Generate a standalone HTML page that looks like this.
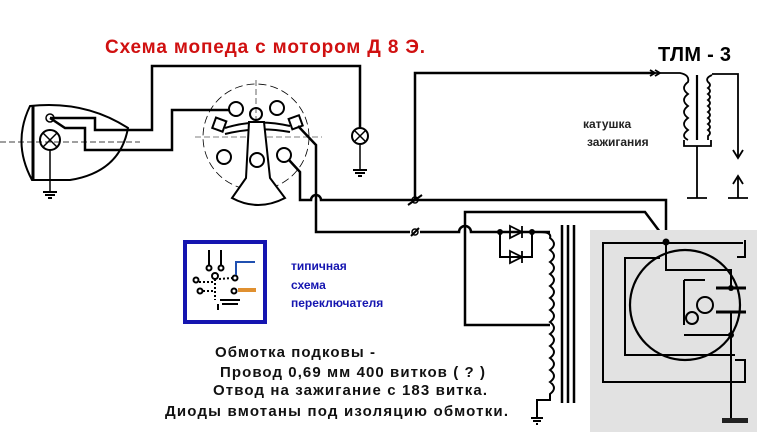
<!DOCTYPE html>
<html><head><meta charset="utf-8"><style>body{margin:0;background:#fff}svg{display:block}</style></head><body>
<svg width="775" height="446" viewBox="0 0 775 446" xmlns="http://www.w3.org/2000/svg" font-family="Liberation Sans, sans-serif">
<rect width="775" height="446" fill="#fff"/>
<text x="105" y="53" font-size="19" font-weight="bold" fill="#d01010" textLength="320" lengthAdjust="spacing">Схема мопеда с мотором Д 8 Э.</text>
<text x="658" y="61" font-size="20" font-weight="bold" fill="#000" textLength="73" lengthAdjust="spacing">ТЛМ - 3</text>
<g fill="none" stroke="#000" stroke-width="2.5">
<path d="M30,106 Q85,100 128,128 Q120,172 70,180 L32,180 Q12,143 30,106 Z" stroke-width="2"/>
<line x1="33" y1="106" x2="33" y2="180" stroke-width="3"/>
<line x1="0" y1="142" x2="140" y2="142" stroke-width="0.7" stroke-dasharray="6,3"/>
<circle cx="50" cy="140" r="10" stroke-width="2"/>
<path d="M43,133 L57,147 M57,133 L43,147" stroke-width="1.5"/>
<circle cx="50" cy="118" r="4" stroke-width="1.5"/>
<line x1="50" y1="150" x2="50" y2="192" stroke-width="1.5"/>
<path d="M43,192 H57 M45,195 H55 M48,198 H52" stroke-width="2"/>
<path d="M50,118 H95 V130 H152 V66 H360 V128"/>
<path d="M50,118 L65,128 H85 V150 H172 V110 H230"/>
<circle cx="360" cy="136" r="8" stroke-width="2"/>
<path d="M354,130 L366,142 M366,130 L354,142" stroke-width="1.5"/>
<line x1="360" y1="144" x2="360" y2="170" stroke-width="1.5"/>
<path d="M353,170 H367 M355,173 H365 M358,176 H362" stroke-width="2"/>
<circle cx="256" cy="137" r="53" stroke-width="0.8" stroke-dasharray="8,4"/>
<line x1="256" y1="80" x2="256" y2="205" stroke-width="0.6" stroke-dasharray="6,3"/>
<line x1="195" y1="137" x2="322" y2="137" stroke-width="0.6" stroke-dasharray="6,3"/>
<circle cx="236" cy="109" r="7" stroke-width="2"/>
<circle cx="277" cy="108" r="7" stroke-width="2"/>
<circle cx="256" cy="114" r="6" stroke-width="2"/>
<circle cx="224" cy="157" r="7" stroke-width="2"/>
<circle cx="257" cy="163" r="7" stroke-width="2"/>
<circle cx="284" cy="155" r="7" stroke-width="2"/>
<rect x="214" y="119" width="11" height="11" transform="rotate(20 219 124)" stroke-width="2"/>
<rect x="290" y="117" width="11" height="11" transform="rotate(-20 295 122)" stroke-width="2"/>
<path d="M225,128 Q256,118 290,126 M225,134 Q256,126 290,132" stroke-width="2"/>
<path d="M249,122 H264 L270,178 L285,198 Q258,212 232,198 L246,178 Z" stroke-width="2" fill="#fff"/>
<circle cx="257" cy="160" r="7" stroke-width="2" fill="#fff"/>
<path d="M298,126 L316,145 V232 H410"/>
<path d="M289,160 L300,172 V200 H311 A5,5 0 0 1 321,200 H666 V242"/>
<path d="M415,200 V73 H655"/>
<path d="M420,232 H459 A6,6 0 0 1 471,232 H550"/>
<path d="M465,232 V212 H645 L666,240"/>
<path d="M465,232 V325 H550"/>
<path d="M408,205 L422,195 M411,236 L419,228" stroke-width="2"/>
<circle cx="415" cy="200" r="3" stroke-width="1.5"/>
<circle cx="415" cy="232" r="3" stroke-width="1.5"/>
<path d="M500,232 V257 H532 V232" stroke-width="2"/>
<path d="M510,226 L522,232 L510,238 Z M522,226 V238 M510,251 L522,257 L510,263 Z M522,251 V263" stroke-width="1.8"/>
<path d="M540,232 Q552,232 550,238 Q558,244 550,250 Q558,256 550,262 Q558,268 550,274 Q558,280 550,286 Q558,292 550,298 Q558,304 550,310 Q558,316 550,322 Q558,328 550,334 Q558,340 550,346 Q558,352 550,358 Q558,364 550,370 Q558,376 550,382 Q558,388 550,394 V400 H537 V418" stroke-width="2"/>
<path d="M531,418 H543 M533,421 H541 M536,424 H538" stroke-width="2"/>
<path d="M562,225 V403 M568,225 V403 M574,225 V403" stroke-width="2.5"/>
</g>
<circle cx="500" cy="232" r="3" fill="#000"/>
<circle cx="532" cy="232" r="3" fill="#000"/>
<rect x="590" y="230" width="167" height="202" fill="#e2e2e2"/>
<g fill="none" stroke="#000" stroke-width="2">
<path d="M743,243 H603 V382 H745 V360 H735"/>
<path d="M745,240 V257 H737"/>
<path d="M660,258 H625 V355 H735"/>
<circle cx="685" cy="305" r="55" stroke-width="2.2"/>
<path d="M666,242 V270 H731 V288 M731,312 V335 H684"/>
<path d="M716,288 H746 M716,312 H746" stroke-width="3"/>
<path d="M731,335 V420"/>
<path d="M684,280 H705 M684,280 V325"/>
<circle cx="705" cy="305" r="8"/>
<circle cx="692" cy="318" r="6"/>
</g>
<rect x="722" y="418" width="26" height="5" fill="#222"/>
<circle cx="666" cy="242" r="3.5" fill="#000"/>
<circle cx="731" cy="288" r="3" fill="#000"/>
<circle cx="731" cy="335" r="3" fill="#000"/>
<g fill="none" stroke="#000" stroke-width="1.8">
<path d="M655,73 L650,70 M655,73 L650,76 M660,73 L655,70 M660,73 L655,76"/>
<path d="M655,73 H680 Q690,75 688,82 Q680,88 688,94 Q680,100 688,106 Q680,112 688,118 Q680,124 688,130 Q680,136 688,140"/>
<path d="M697,75 V140" stroke-width="2.2"/>
<path d="M712,75 Q705,78 708,82 Q712,85 708,88 Q712,91 708,94 Q712,97 708,100 Q712,103 708,106 Q712,109 708,112 Q712,115 708,118 Q712,121 708,124 Q712,127 708,130 Q712,133 708,136 V140"/>
<path d="M712,74 H738 V158 M733,150 L738,158 L743,150"/>
<path d="M738,198 V178 M733,184 L738,176 L743,184"/>
<path d="M728,198 H748 M684,140 V146 H711 V140 M697,146 V198 M687,198 H707"/>
</g>
<text x="583" y="128" font-size="12" font-weight="bold" fill="#222">катушка</text>
<text x="587" y="146" font-size="12" font-weight="bold" fill="#222">зажигания</text>
<rect x="185" y="242" width="80" height="80" fill="#fff" stroke="#1515b0" stroke-width="4"/>
<g stroke="#000" stroke-width="2" fill="none">
<path d="M209,250 V265 M221,250 V265"/>
<circle cx="209" cy="268" r="2.5"/><circle cx="221" cy="268" r="2.5"/>
<circle cx="215" cy="276" r="3"/><circle cx="196" cy="280" r="2.5"/><circle cx="235" cy="278" r="2.5"/>
<circle cx="200" cy="291" r="2.5"/><circle cx="234" cy="291" r="2.5"/>
<path d="M215,279 V300 M203,291 H215 M199,282 H213 M219,279 L232,278" stroke-dasharray="2,2"/>
<path d="M220,300 H240 M222,304 H238 M218,304 V310"/>
</g>
<path d="M236,275 V262 H255" stroke="#2050b0" stroke-width="2" fill="none"/>
<path d="M238,290 H256" stroke="#e09030" stroke-width="4"/>
<text x="291" y="270" font-size="12" font-weight="bold" fill="#1515b0">типичная</text>
<text x="291" y="289" font-size="12" font-weight="bold" fill="#1515b0">схема</text>
<text x="291" y="307" font-size="12" font-weight="bold" fill="#1515b0">переключателя</text>
<g font-size="15" font-weight="bold" fill="#111">
<text x="215" y="357" textLength="160" lengthAdjust="spacing">Обмотка подковы -</text>
<text x="220" y="377" textLength="265" lengthAdjust="spacing">Провод 0,69 мм  400 витков ( ? )</text>
<text x="213" y="395" textLength="274" lengthAdjust="spacing">Отвод на зажигание с 183 витка.</text>
<text x="165" y="416" textLength="343" lengthAdjust="spacing">Диоды вмотаны под изоляцию обмотки.</text>
</g>
</svg>
</body></html>
